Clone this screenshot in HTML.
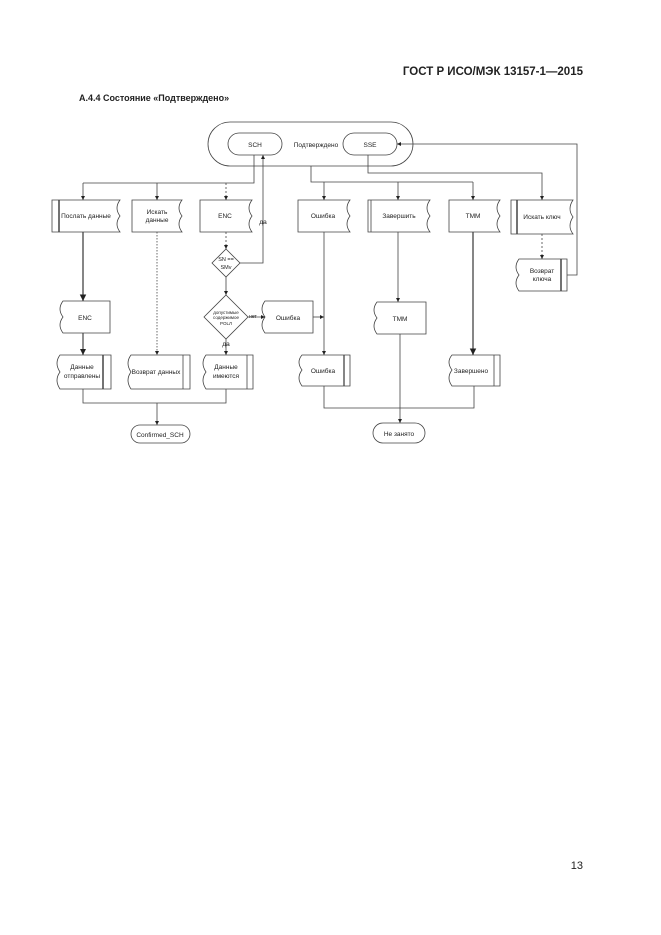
<!DOCTYPE html>
<html><head><meta charset="utf-8"><style>
html,body{margin:0;padding:0;background:#fff}
svg{display:block}
text{font-family:"Liberation Sans",sans-serif;fill:#222}
.s{font-size:6.5px}
</style></head><body>
<svg width="661" height="935" viewBox="0 0 661 935" xmlns="http://www.w3.org/2000/svg">
<defs><marker id="a" markerWidth="6" markerHeight="6" refX="5" refY="3" orient="auto"><path d="M0,0.5 L5,3 L0,5.5z" fill="#222"/></marker></defs>
<text x="583" y="75" font-size="11.5" font-weight="bold" text-anchor="end">ГОСТ Р ИСО/МЭК 13157-1—2015</text>
<text x="79" y="101" font-size="9" font-weight="bold">А.4.4 Состояние «Подтверждено»</text>
<text x="583" y="869" font-size="11" text-anchor="end">13</text>
<g fill="none" stroke="#444" stroke-width="0.8">
<rect x="208" y="122" width="205" height="44" rx="22"/>
<rect x="228" y="133" width="54" height="22" rx="11"/>
<rect x="343" y="133" width="54" height="22" rx="11"/>
<!-- row1 boxes (wavy right) -->
<path d="M52,200 H120 Q114,208 120,216 Q114,224 120,232 H52Z"/><line x1="59" y1="200" x2="59" y2="232" stroke-width="1.5"/>
<path d="M132,200 H182 Q176,208 182,216 Q176,224 182,232 H132Z"/>
<path d="M200,200 H252 Q246,208 252,216 Q246,224 252,232 H200Z"/>
<path d="M298,200 H350 Q344,208 350,216 Q344,224 350,232 H298Z"/>
<path d="M368,200 H430 Q424,208 430,216 Q424,224 430,232 H368Z"/><line x1="371" y1="200" x2="371" y2="232"/>
<path d="M449,200 H500 Q494,208 500,216 Q494,224 500,232 H449Z"/>
<path d="M511,200 H573 Q567,209 573,217 Q567,226 573,234 H511Z"/><line x1="517" y1="200" x2="517" y2="234" stroke-width="1.5"/>
<!-- left curvy input shapes -->
<path d="M519,259 H567 V291 H519 Q513,283 519,275 Q513,267 519,259Z"/><line x1="561" y1="259" x2="561" y2="291" stroke-width="1.5"/>
<path d="M63,301 H110 V333 H63 Q57,325 63,317 Q57,309 63,301Z"/>
<path d="M265,301 H313 V333 H265 Q259,325 265,317 Q259,309 265,301Z"/>
<path d="M377,302 H426 V334 H377 Q371,326 377,318 Q371,310 377,302Z"/>
<path d="M60,355 H111 V389 H60 Q54,380 60,372 Q54,363 60,355Z"/><line x1="103" y1="355" x2="103" y2="389" stroke-width="1.5"/>
<path d="M131,355 H190 V389 H131 Q125,380 131,372 Q125,363 131,355Z"/><line x1="183" y1="355" x2="183" y2="389"/>
<path d="M206,355 H253 V389 H206 Q200,380 206,372 Q200,363 206,355Z"/><line x1="247" y1="355" x2="247" y2="389"/>
<path d="M302,355 H350 V386 H302 Q296,378 302,370 Q296,362 302,355Z"/><line x1="344" y1="355" x2="344" y2="386" stroke-width="1.3"/>
<path d="M452,355 H500 V386 H452 Q446,378 452,370 Q446,362 452,355Z"/><line x1="494" y1="355" x2="494" y2="386"/>
<!-- diamonds -->
<path d="M226,249 L240,263 L226,277 L212,263Z"/>
<path d="M226,295 L248,317 L226,339 L204,317Z"/>
<!-- terminals -->
<rect x="131" y="425" width="59" height="18" rx="9"/>
<rect x="373" y="423" width="52" height="20" rx="10"/>
</g>
<g fill="none" stroke="#444" stroke-width="0.8">
<path d="M254,155 V183 H83"/>
<path d="M83,183 V200" marker-end="url(#a)"/>
<path d="M157,183 V200" marker-end="url(#a)"/>
<path d="M226,183 V200" stroke-dasharray="2,2" marker-end="url(#a)"/>
<path d="M311,166 V182 H473"/>
<path d="M324,182 V200" marker-end="url(#a)"/>
<path d="M398,182 V200" marker-end="url(#a)"/>
<path d="M473,182 V200" marker-end="url(#a)"/>
<path d="M368,155 V173 H542 V200" marker-end="url(#a)"/>
<path d="M542,234 V259" stroke-dasharray="2,2" marker-end="url(#a)"/>
<path d="M567,275 H577 V144 H397" marker-end="url(#a)"/>
<path d="M226,232 V249" stroke-dasharray="2,2" marker-end="url(#a)"/>
<path d="M240,263 H263 V155" marker-end="url(#a)"/>
<path d="M226,277 V295" marker-end="url(#a)"/>
<path d="M248,317 H265" marker-end="url(#a)"/>
<path d="M313,317 H324" marker-end="url(#a)"/>
<path d="M83,232 V301" stroke-width="1.3" marker-end="url(#a)"/>
<path d="M83,333 V355" stroke-width="1.2" marker-end="url(#a)"/>
<path d="M157,232 V355" stroke-dasharray="1.5,1.5" marker-end="url(#a)"/>
<path d="M226,339 V355" marker-end="url(#a)"/>
<path d="M324,232 V355" marker-end="url(#a)"/>
<path d="M398,232 V302" marker-end="url(#a)"/>
<path d="M473,232 V355" stroke-width="1.3" marker-end="url(#a)"/>
<path d="M83,389 V403 H226 V389"/>
<path d="M157,403 V425" marker-end="url(#a)"/>
<path d="M324,386 V408 H474 V386"/>
<path d="M400,334 V423" marker-end="url(#a)"/>
</g>
<g class="s" text-anchor="middle">
<text x="255" y="147">SCH</text><text x="370" y="147">SSE</text>
<text x="316" y="147">Подтверждено</text>
<text x="86" y="218">Послать данные</text>
<text x="157" y="214">Искать</text><text x="157" y="222">данные</text>
<text x="225" y="218">ENC</text>
<text x="323" y="218">Ошибка</text>
<text x="399" y="218">Завершить</text>
<text x="473" y="218">TMM</text>
<text x="542" y="219">Искать ключ</text>
<text x="542" y="273">Возврат</text><text x="542" y="281">ключа</text>
<text x="263" y="224">да</text>
<text x="226" y="261" font-size="5.5">SN ==</text><text x="226" y="269" font-size="5.5">SMv</text>
<text x="226" y="314" font-size="4.5">допустимые</text><text x="226" y="319" font-size="4.5">содержимое</text><text x="226" y="325" font-size="4.5">POLЛ</text>
<text x="253" y="318" font-size="5">нет</text>
<text x="226" y="346">да</text>
<text x="85" y="320">ENC</text>
<text x="288" y="320">Ошибка</text>
<text x="400" y="321">TMM</text>
<text x="82" y="369">Данные</text><text x="82" y="378">отправлены</text>
<text x="156" y="374">Возврат данных</text>
<text x="226" y="369">Данные</text><text x="226" y="378">имеются</text>
<text x="323" y="373">Ошибка</text>
<text x="471" y="373">Завершено</text>
<text x="160" y="437">Confirmed_SCH</text>
<text x="399" y="436">Не занято</text>
</g>
</svg>
</body></html>
